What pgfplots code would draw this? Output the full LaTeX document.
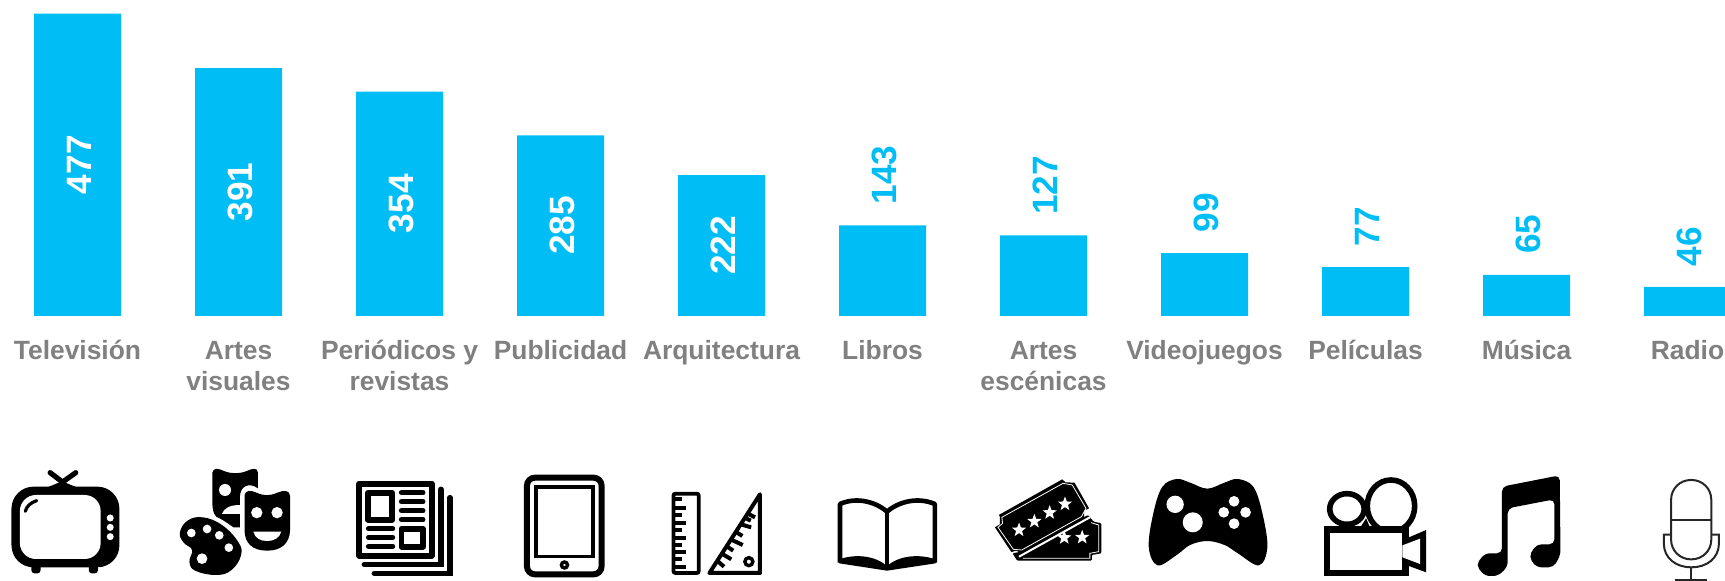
\documentclass[border=0pt]{standalone}
\usepackage{fontspec}
\setmainfont{Liberation Sans}
\usepackage{pgfplots}
\pgfplotsset{compat=1.18}
\usetikzlibrary{shapes.geometric}
\definecolor{barblue}{RGB}{0,190,245}
\definecolor{labgray}{RGB}{128,128,128}
\newcommand{\whitedot}[3]{\fill[white] (#1,#2) ellipse [x radius=#3*0.8712, y radius=#3];}
\begin{document}
\begin{tikzpicture}
\path[use as bounding box] (0pt,-132.5pt) rectangle (862.5pt,158pt);
\begin{axis}[
  at={(0pt,0pt)}, anchor=south west,
  scale only axis, width=862.5pt, height=158pt,
  xmin=-0.4814, xmax=10.2329, ymin=0, ymax=498.4,
  axis line style={draw=none}, tick style={draw=none},
  major tick length=0pt,
  ytick=\empty,
  xtick={0,1,2,3,4,5,6,7,8,9,10},
  xticklabels={Televisión,{Artes\\visuales},{Periódicos y\\revistas},Publicidad,Arquitectura,Libros,{Artes\\escénicas},Videojuegos,Películas,Música,Radio},
  typeset ticklabels with strut,
  xticklabel style={align=center, anchor=north, inner sep=0pt, yshift=-10.5pt,
    font=\fontsize{13.2}{15.5}\selectfont\bfseries, text=labgray},
  /pgf/number format/assume math mode=true,
]
% large bars: value inside, white
\addplot[ybar, bar width=43.5pt, bar shift=0pt, fill=barblue, draw=none,
  visualization depends on={0.1585*y \as \halfh},
  nodes near coords,
  every node near coord/.append style={anchor=center, rotate=90, inner sep=0pt, text=white,
    font=\fontsize{17.6}{18}\selectfont\bfseries, shift={(-\halfh pt,-0.8pt)}},
] coordinates {(0,477) (1,391) (2,354) (3,285) (4,222)};
% small bars: value above, blue
\addplot[ybar, bar width=43.5pt, bar shift=0pt, fill=barblue, draw=none,
  nodes near coords,
  every node near coord/.append style={anchor=west, rotate=90, inner sep=0pt, text=barblue,
    font=\fontsize{17.6}{18}\selectfont\bfseries, shift={(10.2pt,-0.8pt)}},
] coordinates {(5,143) (6,127) (7,99) (8,77) (9,65) (10,46)};
\end{axis}

% --- icons, crop 1
\begin{scope}[shift={(0pt,-62pt)},x=0.19135pt,y=-0.16667pt]
  % TV
  \draw[black,line width=2.6pt,line cap=round] (162,125)--(131,98) (165,125)--(198,98);
  \fill (122,143)--(162,124)--(203,143)--cycle;
  \fill[rounded corners=1.5pt] (82,370) rectangle (106,400);
  \fill[rounded corners=1.5pt] (232,370) rectangle (256,400);
  \fill[rounded corners=11pt] (30,140) rectangle (312,382);
  \fill[white,rounded corners=8pt] (52,165) rectangle (263,357);
  \draw[line width=1.6pt,line cap=round] (66,214) .. controls (70,198) and (80,188) .. (96,182);
  \whitedot{288}{234}{10.5}\whitedot{288}{262}{10.5}\whitedot{288}{290}{10.5}
  % masks
  \fill (555,98) .. controls (558,82) and (570,85) .. (585,93) .. controls (605,102) and (625,102) .. (645,93)
     .. controls (660,85) and (673,82) .. (674,98) -- (674,145) .. controls (650,125) and (627,140) .. (627,170)
     -- (627,262) -- (610,262) .. controls (590,245) and (575,235) .. (565,230) .. controls (557,220) and (555,205) .. (555,190) -- cycle;
  \fill[white] (580,222) .. controls (585,205) and (600,195) .. (627,195) -- (627,222) -- cycle;
  \whitedot{588}{150}{18}
  \fill (639,165) .. controls (642,150) and (655,150) .. (670,158) .. controls (690,168) and (705,168) .. (725,158)
     .. controls (742,150) and (757,150) .. (758,168) -- (758,270) .. controls (757,310) and (735,332) .. (698,332)
     .. controls (660,332) and (639,310) .. (639,270) -- cycle;
  \whitedot{671}{218}{17}\whitedot{724}{218}{17}
  \fill[white] (662,275) -- (735,275) .. controls (730,295) and (715,303) .. (698,303) .. controls (680,303) and (667,295) .. (662,275) -- cycle;
  % palette
  \fill plot[smooth cycle,tension=0.7] coordinates {(470,278) (490,242) (530,232) (580,255) (622,305) (630,345) (605,390) (565,405) (510,392) (495,365) (502,330) (480,308)};
  \whitedot{500}{279}{13}\whitedot{541}{267}{13}\whitedot{573}{286}{13}\whitedot{598}{323}{13}\whitedot{528}{356}{16}
  % newspaper
  \draw[line width=2.9pt,line join=round] (939,131) rectangle (1128,347);
  \draw[line width=2.9pt,line join=round] (962,158) rectangle (1025,239);
  \draw[line width=2.9pt,line join=round] (1049,266) rectangle (1105,320);
  \draw[line width=2.6pt,line cap=round] (1049,158)--(1105,158) (1049,185)--(1105,185) (1049,212)--(1105,212) (1049,239)--(1105,239)
     (963,266)--(1026,266) (963,292)--(1026,292) (963,319)--(1026,319);
  \draw[line width=2.7pt,line cap=round,line join=miter] (952,373)--(1152,373)--(1152,148);
  \draw[line width=2.7pt,line cap=round,line join=miter] (978,400)--(1176,400)--(1176,173);
  % tablet
  \draw[line width=3pt,rounded corners=4pt] (1377,113) rectangle (1572,403);
  \draw[line width=1.8pt] (1401,141) rectangle (1549,349);
  \draw[line width=1.7pt] (1475,375) ellipse [x radius=8, y radius=9];
\end{scope}

% --- icons, crop 2
\begin{scope}[shift={(300pt,-62pt)},x=0.19135pt,y=-0.16667pt]
  % ruler
  \draw[line width=1.9pt,rounded corners=1pt] (192,161) rectangle (258,399);
  \draw[line width=1.9pt] (195,178)--(215,178) (195,203)--(225,203) (195,226)--(215,226) (195,248)--(225,248) (195,271)--(215,271) (195,293)--(225,293) (195,315)--(215,315) (195,337)--(225,337) (195,358)--(215,358) (195,380)--(225,380);
  % set square
  \draw[line width=2pt,line join=round] (418,163)--(418,399)--(286,399)--cycle;
  \draw[line width=2pt]
    (306,362)--(324,380) (317,340)--(343,358) (330,318)--(348,332) (341,298)--(373,315)
    (354,275)--(372,288) (365,252)--(395,262) (376,232)--(394,242) (385,220)--(405,232);
  \draw[line width=1.7pt] (389,365) ellipse [x radius=10.5, y radius=12];
  % book
  \draw[line width=2.3pt,line join=round] (750,215) .. controls (720,185) and (670,170) .. (627,192) -- (627,368);
  \draw[line width=2.3pt,line join=round] (750,215) .. controls (780,185) and (830,170) .. (875,192) -- (875,368);
  \draw[line width=1.6pt] (750,215)--(750,385);
  \fill (625,370) -- (625,358) .. controls (670,340) and (720,348) .. (750,378) .. controls (780,348) and (830,340) .. (877,358) -- (877,370) -- (750,392) -- cycle;
  % tickets
  \fill[rounded corners=0.5pt] (1090,362) -- (1078,340) -- (1100,335) -- (1275,225) -- (1290,245) -- (1310,250) -- (1310,340) -- (1285,345) -- (1285,362) -- cycle;
  \draw[white,line width=0.4pt] (1105,355) -- (1280,355) -- (1280,340) -- (1303,335) -- (1303,255) -- (1283,248);
  \draw[white,line width=1pt] (1095,350)--(1280,232);
  \fill (1042,225) -- (1208,118) -- (1216,127) -- (1240,128) -- (1278,205) -- (1265,212) -- (1265,235) -- (1100,340) -- (1088,332) -- (1075,336) -- (1032,262) -- (1045,253) -- (1045,230) -- cycle;
  \draw[white,line width=0.4pt] (1050,232) -- (1210,130) -- (1234,135) -- (1270,205) -- (1258,230) -- (1102,330) -- (1080,328) -- (1040,262) -- (1052,250) -- cycle;
  \foreach \p in {(1095,270),(1135,244),(1175,218),(1215,192),(1213,293),(1260,292)}
    \node[star,star points=5,star point ratio=2.4,fill=white,inner sep=0pt,minimum size=7.5pt] at \p {};
\end{scope}

% --- icons, crop 3
\begin{scope}[shift={(562.5pt,-62pt)},x=0.19135pt,y=-0.16667pt]
  % gamepad
  \fill plot[smooth cycle,tension=0.6] coordinates {(135,117) (170,128) (215,146) (260,128) (295,117) (335,140) (358,215) (372,320) (350,376) (295,340) (260,315) (215,303) (170,315) (135,345) (85,376) (62,320) (75,215) (98,140)};
  \whitedot{131}{193}{26}\whitedot{177}{247}{30}\whitedot{285}{184}{16}\whitedot{258}{217}{16}\whitedot{315}{217}{16}\whitedot{285}{251}{16}
  % camera
  \fill (615,262)--(630,235)--(640,262)--cycle (655,262)--(742,262)--(742,235)--(725,235)--cycle;
  \draw[line width=2.8pt,fill=white] (580,207) ellipse [x radius=45, y radius=46];
  \draw[line width=2.8pt,fill=white] (695,198) ellipse [x radius=62, y radius=78];
  \fill (520,259) rectangle (742,407);
  \fill[white] (536,278) rectangle (725,390);
  \fill (742,292) -- (787,270) -- (787,397) -- (742,378) -- cycle;
  \fill (725,310) -- (742,292) -- (742,378) -- (725,352) -- cycle;
  \fill[white] (725,316) -- (771,296) -- (771,372) -- (725,352) -- cycle;
  % music
  \fill[rounded corners=2.5pt] (985,140) -- (1136,106) -- (1138,345) -- (1120,382) -- (1075,382) -- (1055,350) -- (1075,313) -- (1122,313) -- (1122,178) -- (1000,205) -- (1000,380) -- (975,408) -- (940,408) -- (917,375) -- (940,340) -- (985,340) -- cycle;
  % microphone
  \begin{scope}[color=black!85,line width=1pt]
    \draw[rounded corners=9.8pt] (1427,120) rectangle (1532,358);
    \draw (1427,240)--(1532,240);
    \draw (1427,284)--(1408,284) -- (1408,310) .. controls (1408,355) and (1440,382) .. (1480,382) .. controls (1520,382) and (1552,355) .. (1552,310) -- (1552,284) -- (1532,284);
    \draw (1480,382)--(1480,419) (1438,419)--(1520,419);
  \end{scope}
\end{scope}
\end{tikzpicture}
\end{document}
